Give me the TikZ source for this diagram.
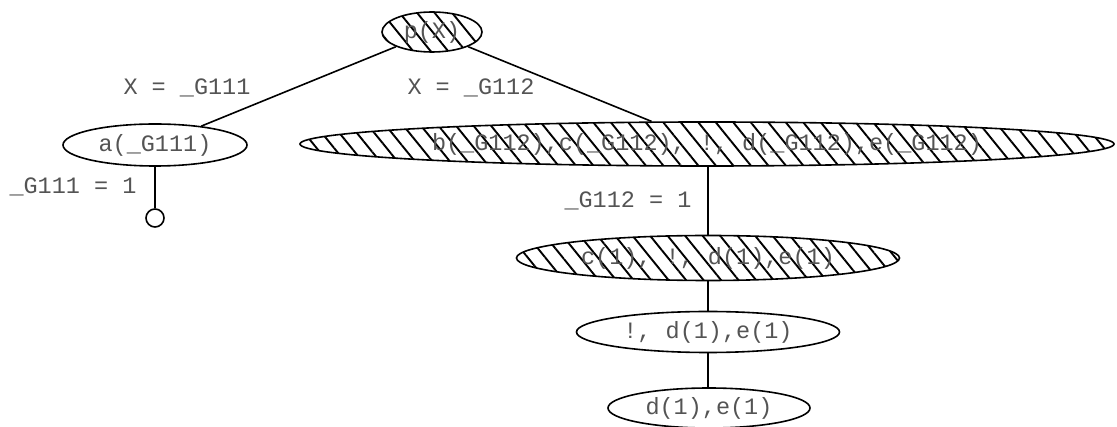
\documentclass[tikz,border=0pt]{standalone}
\usepackage{fontspec}
\setmonofont{Liberation Mono}
\usetikzlibrary{shapes.geometric,patterns.meta}
\definecolor{txt}{gray}{0.33}
\tikzset{
  goal/.style={ellipse,draw=black,line width=1.6pt,inner sep=0pt,text=txt,
    font=\ttfamily\fontsize{23.5}{26}\selectfont},
  cut/.style={goal,pattern={Lines[angle=-51,distance=13.6pt,line width=1.9pt]}},
  lbl/.style={inner sep=0pt,text=txt,font=\ttfamily\fontsize{23.5}{26}\selectfont},
  edge/.style={line width=1.6pt},
  leaf/.style={circle,draw=black,line width=1.6pt,minimum size=18pt,inner sep=0pt}
}
\begin{document}
\begin{tikzpicture}[x=1pt,y=-1pt]
\useasboundingbox (0,0) rectangle (1117,427);
\node[cut,minimum width=100pt,minimum height=40pt] (p) at (432,32) {p(X)};
\node[goal,minimum width=184pt,minimum height=42pt] (a) at (155,145) {a(\_G111)};
\node[cut,minimum width=814pt,minimum height=44pt] (b) at (707,144) {b(\_G112),c(\_G112), !, d(\_G112),e(\_G112)};
\node[cut,minimum width=383pt,minimum height=45pt] (c) at (708,258) {c(1), !, d(1),e(1)};
\node[goal,minimum width=263pt,minimum height=41pt] (k) at (708,332) {!, d(1),e(1)};
\node[goal,minimum width=202pt,minimum height=40pt] (d) at (709,408) {d(1),e(1)};
\node[leaf] (s) at (155,218) {};
\draw[edge] (p) -- (a);
\draw[edge] (p) -- (b);
\draw[edge] (a) -- (s);
\draw[edge] (b.south -| c.north) -- (c);
\draw[edge] (c) -- (k);
\draw[edge] (k) -- (d.north -| k.south);
\node[lbl] (l1) at (187,88) {X = \_G111};
\node[lbl] (l2) at (471,88) {X = \_G112};
\node[lbl] (l3) at (73,187) {\_G111 = 1};
\node[lbl] (l4) at (628,201) {\_G112 = 1};
\end{tikzpicture}
\end{document}
